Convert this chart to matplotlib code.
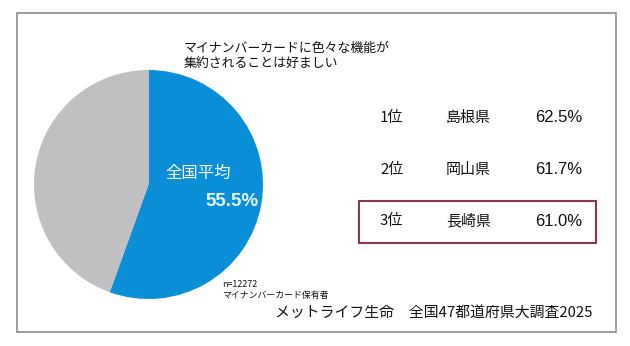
import matplotlib
matplotlib.use("Agg")
import matplotlib.pyplot as plt
from matplotlib.patches import Rectangle

plt.rcParams['font.family'] = ['Noto Sans CJK JP', 'DejaVu Sans']

# 全国平均
avg_share = [55.5, 44.5]
pie_colors = ['#0a8ed6', '#c0c0c2']

# 上位3県
ranks = ['1位', '2位', '3位']
prefs = ['島根県', '岡山県', '長崎県']
rates = [62.5, 61.7, 61.0]

W, H = 630, 346
fig = plt.figure(figsize=(W / 100, H / 100), dpi=100)
fig.patch.set_facecolor('white')

# 円グラフ
px, py, pw, ph = 34, 70, 229, 229
pax = fig.add_axes([px / W, (H - py - ph) / H, pw / W, ph / H])
pax.pie(avg_share, colors=pie_colors, startangle=90, counterclock=False,
        wedgeprops=dict(linewidth=0))
pax.set_xlim(-1, 1)
pax.set_ylim(-1, 1)
pax.set_aspect('equal')

# ピクセル座標の土台（文字と枠は円の上に重ねる）
base = fig.add_axes([0, 0, 1, 1])
base.patch.set_alpha(0)
base.set_xlim(0, W)
base.set_ylim(H, 0)
base.axis('off')

base.add_patch(Rectangle((17, 13), 599, 319, fill=False, edgecolor='#8c8c8c', lw=1.2))

base.text(184, 56, 'マイナンバーカードに色々な機能が\n集約されることは好ましい',
          fontsize=9.3, va='center', ha='left', linespacing=1.15, color='#111111')
base.text(165, 173, '全国平均', fontsize=11.8, color='white', va='center', ha='left')
base.text(259, 201, f'{avg_share[0]}%', fontsize=13.5, color='#e6f6ff', fontweight='bold',
          va='center', ha='right', family='Liberation Sans')

# ランキング表
row_y = [118, 170, 221]
for r, p, v, y in zip(ranks, prefs, rates, row_y):
    base.text(380, y, r, fontsize=10.8, va='center', ha='left', color='#111111')
    base.text(446, y, p, fontsize=10.8, va='center', ha='left', color='#111111')
    base.text(582, y, f'{v:.1f}%', fontsize=12, va='center', ha='right', color='#111111',
              family='Liberation Sans')

base.add_patch(Rectangle((359, 201), 237, 42, fill=False, edgecolor='#8a3553', lw=1.5))

base.text(222, 290, 'n=12272\nマイナンバーカード保有者', fontsize=6.4, va='center', ha='left',
          linespacing=1.15, color='#111111')
base.text(592, 314, 'メットライフ生命　全国47都道府県大調査2025', fontsize=10.7,
          va='center', ha='right', color='#111111')

fig.savefig('out.png', dpi=100, facecolor='white')
